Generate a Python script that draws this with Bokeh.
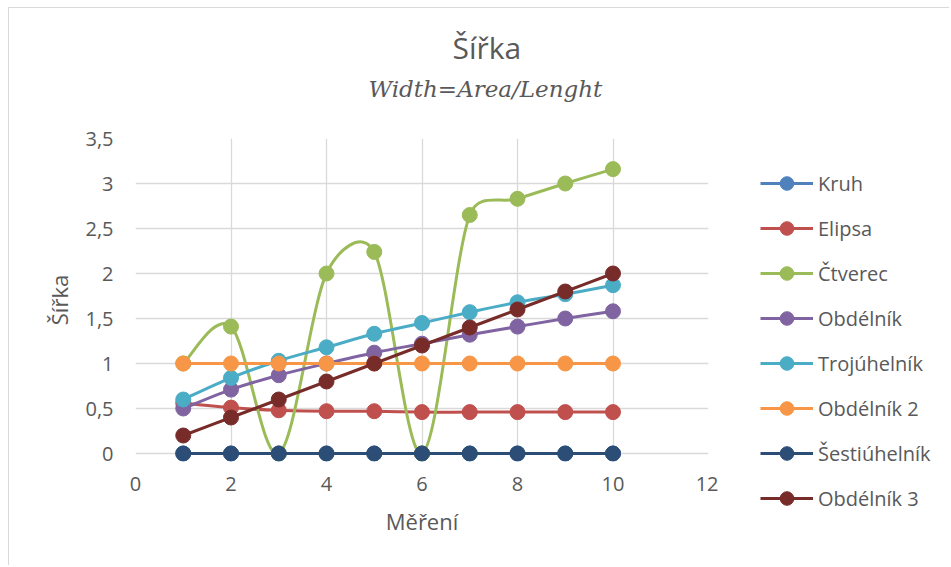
import numpy as np
from bokeh.plotting import figure
from bokeh.layouts import row, column
from bokeh.models import (Title, Legend, LegendItem, FixedTicker, LinearAxis,
                          CustomJSTickFormatter, Range1d, BoxAnnotation)
from bokeh.embed import file_html
from bokeh.resources import INLINE

# ---------------- data ----------------
x_vals = [1, 2, 3, 4, 5, 6, 7, 8, 9, 10]
series_names = ["Kruh", "Elipsa", "Čtverec", "Obdélník", "Trojúhelník",
                "Obdélník 2", "Šestiúhelník", "Obdélník 3"]
kruh = [0, 0, 0, 0, 0, 0, 0, 0, 0, 0]
elipsa = [0.56, 0.51, 0.48, 0.47, 0.47, 0.46, 0.46, 0.46, 0.46, 0.46]
ctverec = [1.0, 1.41, 0.0, 2.0, 2.24, 0.0, 2.65, 2.83, 3.0, 3.16]
obdelnik = [0.5, 0.71, 0.87, 1.0, 1.12, 1.22, 1.32, 1.41, 1.5, 1.58]
trojuhelnik = [0.6, 0.84, 1.03, 1.18, 1.33, 1.45, 1.57, 1.68, 1.77, 1.87]
obdelnik2 = [1, 1, 1, 1, 1, 1, 1, 1, 1, 1]
sestiuhelnik = [0, 0, 0, 0, 0, 0, 0, 0, 0, 0]
obdelnik3 = [0.2, 0.4, 0.6, 0.8, 1.0, 1.2, 1.4, 1.6, 1.8, 2.0]
series_values = [kruh, elipsa, ctverec, obdelnik, trojuhelnik,
                 obdelnik2, sestiuhelnik, obdelnik3]
colors = ["#4F81BD", "#C0504D", "#9BBB59", "#8064A2", "#4BACC6",
          "#F79646", "#2C4D75", "#772C2A"]
x_ticks = [0, 2, 4, 6, 8, 10, 12]
y_ticks = [0, 0.5, 1, 1.5, 2, 2.5, 3, 3.5]

title_text = "Šířka"
subtitle_text = "Width=Area/Lenght"
x_label = "Měření"
y_label = "Šířka"

TEXT = "#595959"
GRID = "#d9d9d9"
FONT = "Open Sans"

X_START, X_END = 0, 12
Y_START, Y_END = 0, 3.5
FRAME_W, FRAME_H = 573, 315          # pixel size of the 0..12 x 0..3.5 area
PAD = 8                               # extra px below y=0 so markers there are not clipped
MB_LEFT, MB_RIGHT, MB_TOP, MB_BOTTOM = 126, 10, 130, 112
TOTAL_W, TOTAL_H = 940, MB_TOP + FRAME_H + MB_BOTTOM
LEG_W = TOTAL_W - (MB_LEFT + FRAME_W + MB_RIGHT)

px_x = FRAME_W / (X_END - X_START)
px_y = FRAME_H / (Y_END - Y_START)


def smooth_segments(xs, ys, px_x, px_y):
    """Excel-like smoothing: Catmull-Rom bezier control points whose handle
    length (in screen pixels) is capped at half the segment length."""
    xs = np.asarray(xs, float)
    ys = np.asarray(ys, float)
    xp = np.concatenate([[xs[0]], xs, [xs[-1]]])
    yp = np.concatenate([[ys[0]], ys, [ys[-1]]])
    i = np.arange(len(xs) - 1)
    P0x, P1x, P2x, P3x = xp[i], xp[i + 1], xp[i + 2], xp[i + 3]
    P0y, P1y, P2y, P3y = yp[i], yp[i + 1], yp[i + 2], yp[i + 3]
    seg = np.hypot((P2x - P1x) * px_x, (P2y - P1y) * px_y)

    def handle(dx, dy):
        lx, ly = dx / 6.0, dy / 6.0
        L = np.hypot(lx * px_x, ly * px_y)
        cap = 0.5 * seg
        f = np.where(L > cap, cap / np.where(L == 0, 1, L), 1.0)
        return lx * f, ly * f

    h0x, h0y = handle(P2x - P0x, P2y - P0y)
    h1x, h1y = handle(P3x - P1x, P3y - P1y)
    return dict(x0=P1x, y0=P1y, x1=P2x, y1=P2y,
                cx0=P1x + h0x, cy0=P1y + h0y,
                cx1=P2x - h1x, cy1=P2y - h1y)


p = figure(width=MB_LEFT + FRAME_W + MB_RIGHT, height=TOTAL_H,
           x_range=Range1d(X_START, X_END),
           y_range=Range1d(Y_START - PAD / px_y, Y_END),
           output_backend="svg", toolbar_location=None, title_location=None,
           min_border_left=MB_LEFT, min_border_right=MB_RIGHT,
           min_border_top=MB_TOP, min_border_bottom=MB_BOTTOM - PAD)
p.outline_line_color = None
p.background_fill_color = "white"
p.border_fill_color = "white"

# grid (the grid lines at 0 act as the axis lines)
p.xgrid.ticker = FixedTicker(ticks=x_ticks)
p.ygrid.ticker = FixedTicker(ticks=y_ticks)
for g in (p.xgrid, p.ygrid):
    g.grid_line_color = GRID
    g.grid_line_width = 1.3
# white band hiding the vertical grid lines below y = 0
below_zero = BoxAnnotation(top=Y_START, fill_color="white", fill_alpha=1.0,
                           line_color=None, level="underlay")
p.center = [p.xgrid[0], below_zero, p.ygrid[0]]

# axes
p.xaxis.ticker = FixedTicker(ticks=x_ticks)
p.yaxis.ticker = FixedTicker(ticks=y_ticks)
p.yaxis.formatter = CustomJSTickFormatter(code="return tick.toString().replace('.', ',');")
for ax in (p.xaxis[0], p.yaxis[0]):
    ax.major_tick_line_color = None
    ax.minor_tick_line_color = None
    ax.major_tick_out = 0
    ax.major_tick_in = 0
    ax.axis_line_color = None
    ax.major_label_text_font = FONT
    ax.major_label_text_font_size = "20px"
    ax.major_label_text_color = TEXT
    ax.axis_label_text_font = FONT
    ax.axis_label_text_font_size = "22px"
    ax.axis_label_text_color = TEXT
    ax.axis_label_text_font_style = "normal"
p.xaxis.axis_label = x_label
p.yaxis.axis_label = y_label
p.xaxis.major_label_standoff = 23 - PAD
p.yaxis.major_label_standoff = 22
p.xaxis.axis_label_standoff = 12
p.yaxis.axis_label_standoff = 8

# blank axis used only as spacing between the plot area and the subtitle
spacer = LinearAxis(ticker=FixedTicker(ticks=[X_END]), major_tick_out=35,
                    major_tick_in=0, major_label_standoff=0,
                    formatter=CustomJSTickFormatter(code="return '';"),
                    major_label_text_font_size="0px",
                    axis_line_color=None, major_tick_line_color="white",
                    minor_tick_line_color=None)
p.add_layout(spacer, "above")
p.add_layout(Title(text=subtitle_text, text_font="DejaVu Serif", text_font_style="italic",
                   text_font_size="23px", text_color=TEXT, align="left",
                   offset=233, standoff=4), "above")
p.add_layout(Title(text=title_text, text_font=FONT, text_font_style="normal",
                   text_font_size="30px", text_color=TEXT, align="left",
                   offset=317, standoff=7), "above")

# ---- legend panel (separate canvas so the legend is not clipped) ----
pl = figure(width=LEG_W, height=TOTAL_H, x_range=Range1d(-2, -1), y_range=Range1d(-2, -1),
            output_backend="svg", toolbar_location=None, title_location=None,
            x_axis_location=None, y_axis_location=None,
            min_border_left=14, min_border_right=0, min_border_top=MB_TOP,
            min_border_bottom=0)
pl.grid.visible = False
pl.outline_line_color = None
pl.background_fill_color = "white"
pl.border_fill_color = "white"

items = []
for name, vals, c in zip(series_names, series_values, colors):
    seg = smooth_segments(x_vals, vals, px_x, px_y)
    p.bezier(line_color=c, line_width=3, line_cap="round", **seg)
    p.scatter(x=x_vals, y=vals, size=15, fill_color=c, line_color=c)
    # same series in the legend canvas (outside its visible range)
    bz = pl.bezier(line_color=c, line_width=3, **seg)
    sc = pl.scatter(x=x_vals, y=vals, size=15, fill_color=c, line_color=c)
    items.append(LegendItem(label=name, renderers=[bz, sc]))

legend = Legend(items=items, location="top_left", orientation="vertical",
                glyph_width=53, glyph_height=34, label_height=34, spacing=11,
                label_standoff=5, padding=10, margin=28, border_line_color=None,
                background_fill_alpha=0, label_text_font=FONT,
                label_text_font_size="20px", label_text_color=TEXT)
pl.add_layout(legend, "center")

layout = row(p, column(pl), spacing=0,
             styles={"border-left": "1px solid #d9d9d9", "border-top": "1px solid #d9d9d9",
                     "margin-left": "8px", "margin-top": "7px"})

open("out.html", "w").write(file_html(layout, INLINE))
